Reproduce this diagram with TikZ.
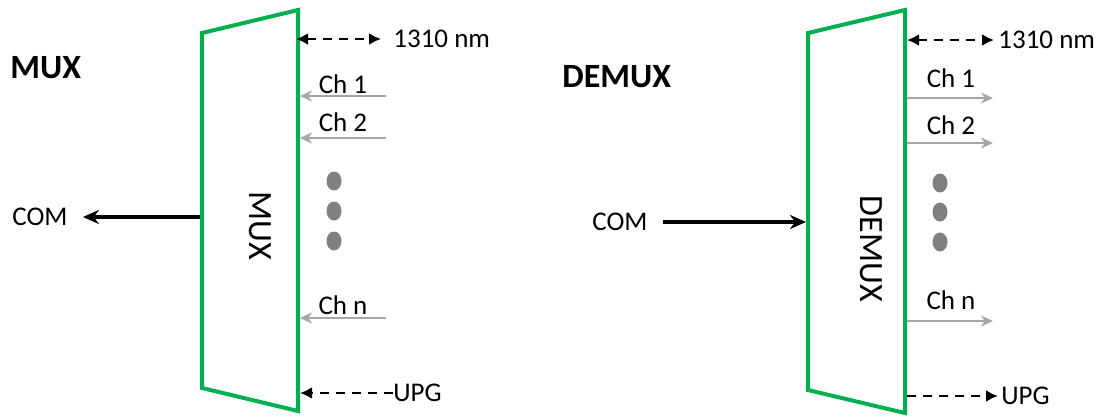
\documentclass[tikz,border=0pt]{standalone}
\usepackage{fontspec}
\setmainfont{Carlito}
\usetikzlibrary{arrows.meta,shapes.geometric,positioning,calc}

\definecolor{boxgreen}{RGB}{0,176,80}
\definecolor{chgray}{RGB}{166,166,166}
\definecolor{dotgray}{RGB}{128,128,128}

\tikzset{
  box/.style={draw=boxgreen, line width=2pt, line join=miter},
  comline/.style={line width=1.7pt, -{Stealth[length=8pt,width=7pt]}},
  chline/.style={draw=chgray, line width=1pt, -{Stealth[length=6pt,width=5.5pt]}},
  dashline/.style={line width=1.25pt, dash pattern=on 4.5pt off 3.5pt},
  txt/.style={inner sep=0pt, font=\fontsize{13.5}{16}\selectfont},
  title/.style={inner sep=0pt, anchor=west, font=\fontsize{17}{20}\selectfont\bfseries},
  boxlabel/.style={inner sep=0pt, rotate=-90, font=\fontsize{17}{20}\selectfont},
  dot/.style={ellipse, fill=dotgray, inner sep=0pt, minimum width=7.5pt, minimum height=9.5pt}
}

\begin{document}
\begin{tikzpicture}[x=0.5pt, y=-0.5pt, >={Latex[length=6pt,width=6pt]}]
\useasboundingbox (0,0) rectangle (1110,419);

% MUX
\coordinate (mux-tl) at (202,33);
\coordinate (mux-tr) at (298,10);
\coordinate (mux-br) at (298,411);
\coordinate (mux-bl) at (202,388);
\draw [box] (mux-tl) -- (mux-tr) -- (mux-br) -- (mux-bl) -- cycle;

\node [title] (mux-title) at (10,68) {MUX};
\node [boxlabel] (mux-label) at (260,226) {MUX};

\node [txt] (mux-com) at (40,217) {COM};
\coordinate (mux-out) at (200,217);
\draw [comline] (mux-out) -- ($(mux-com.east)+(15,0)$);

\node [txt, anchor=west] (mux-nm) at (393,39) {1310 nm};
\coordinate (mux-nm-in) at (296,39);
\draw [dashline, <->] (mux-nm-in) -- ($(mux-nm.west)+(-12,0)$);

\foreach \l/\ty/\ay [count=\i] in {1/84/96, 2/122/138, n/305/318}
{
  \node [txt] (mux-ch-\i) at (343,\ty) {Ch \l};
  \coordinate (mux-in-\i) at (386,\ay);
  \coordinate (mux-end-\i) at (300,\ay);
  \draw [chline] (mux-in-\i) -- (mux-end-\i);
}

\foreach \y [count=\i] in {181,211,241}
  \node [dot] (mux-dot-\i) at (334,\y) {};

\node [txt, anchor=west] (mux-upg) at (393,393) {UPG};
\coordinate (mux-upg-in) at (300,393);
\draw [dashline, ->] (mux-upg.west) -- (mux-upg-in);

% DEMUX
\coordinate (demux-tl) at (808,33);
\coordinate (demux-tr) at (905,10);
\coordinate (demux-br) at (905,413);
\coordinate (demux-bl) at (808,390);
\draw [box] (demux-tl) -- (demux-tr) -- (demux-br) -- (demux-bl) -- cycle;

\node [title] (demux-title) at (562,77) {DEMUX};
\node [boxlabel] (demux-label) at (871,249) {DEMUX};

\node [txt] (demux-com) at (620,222) {COM};
\coordinate (demux-in) at (806,222);
\draw [comline] ($(demux-com.east)+(15,0)$) -- (demux-in);

\node [txt, anchor=west] (demux-nm) at (998,40) {1310 nm};
\coordinate (demux-nm-in) at (907,40);
\draw [dashline, <->] (demux-nm-in) -- ($(demux-nm.west)+(-4,0)$);

\foreach \l/\ty/\ay [count=\i] in {1/78/98, 2/125/143, n/300/321}
{
  \node [txt] (demux-ch-\i) at (951,\ty) {Ch \l};
  \coordinate (demux-out-\i) at (907,\ay);
  \coordinate (demux-end-\i) at (993,\ay);
  \draw [chline] (demux-out-\i) -- (demux-end-\i);
}

\foreach \y [count=\i] in {183,212,242}
  \node [dot] (demux-dot-\i) at (940,\y) {};

\node [txt, anchor=west] (demux-upg) at (1001,396) {UPG};
\coordinate (demux-upg-out) at (907,396);
\draw [dashline, ->] (demux-upg-out) -- ($(demux-upg.west)+(-3,0)$);

\end{tikzpicture}
\end{document}
